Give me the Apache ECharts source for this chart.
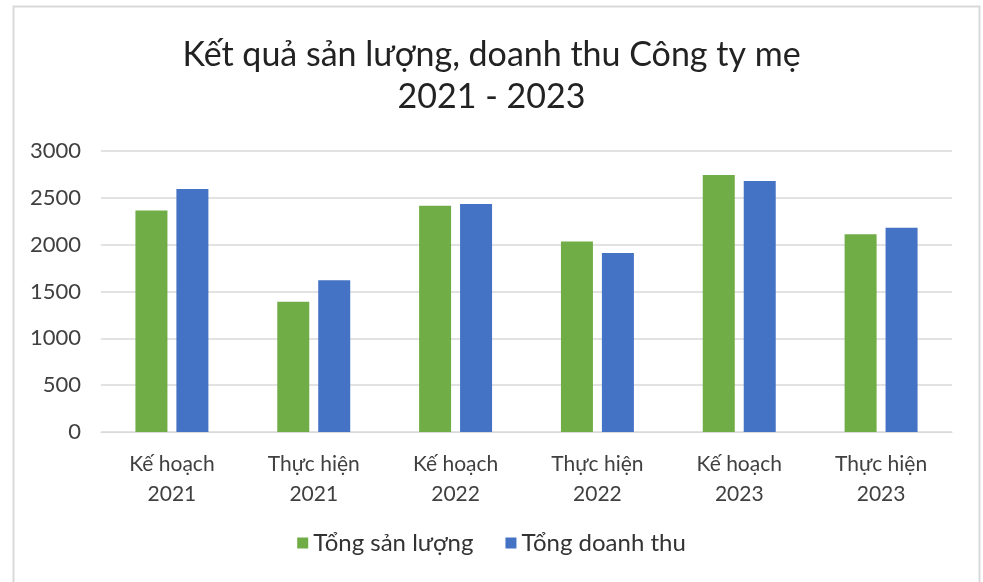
<!DOCTYPE html>
<html><head><meta charset="utf-8">
<script src="https://cdn.jsdelivr.net/npm/echarts@6/dist/echarts.min.js"></script>
<style>html,body{margin:0;padding:0;background:#fff}#c{width:983px;height:582px}</style>
</head><body><div id="c"></div>
<script>
const categories = ['Kế hoạch\n2021','Thực hiện\n2021','Kế hoạch\n2022','Thực hiện\n2022','Kế hoạch\n2023','Thực hiện\n2023'];
const tongSanLuong = [2365, 1390, 2415, 2035, 2745, 2110];
const tongDoanhThu = [2595, 1620, 2435, 1910, 2680, 2180];
const seriesNames = ['Tổng sản lượng','Tổng doanh thu'];
const titleText = 'Kết quả sản lượng, doanh thu Công ty mẹ\n2021 - 2023';
const FONT = 'Lato';
const chart = echarts.init(document.getElementById('c'), null, {renderer:'canvas'});
chart.setOption({
  animation:false,
  backgroundColor:'#fff',
  graphic:[{type:'rect', shape:{x:13.5,y:6.5,width:966,height:590}, style:{fill:'none', stroke:'#d9d9d9', lineWidth:2}}],
  title:{text:titleText, left:'center', top:29, textStyle:{fontFamily:FONT, fontSize:34, fontWeight:'normal', color:'#222', lineHeight:42}},
  legend:{bottom:22, left:'center', itemWidth:11, itemHeight:11, itemGap:32, icon:'rect',
    textStyle:{fontFamily:FONT, fontSize:24, color:'#333'}},
  grid:{left:101, right:31, top:151, bottom:150, containLabel:false},
  xAxis:{type:'category', data:categories,
    axisLine:{lineStyle:{color:'#d9d9d9'}}, axisTick:{show:false},
    axisLabel:{fontFamily:FONT, fontSize:21, color:'#404040', lineHeight:30, margin:17}},
  yAxis:{type:'value', min:0, max:3000, interval:500,
    axisLine:{show:false}, axisTick:{show:false},
    splitLine:{lineStyle:{color:'#d9d9d9', width:1.5}},
    axisLabel:{fontFamily:FONT, fontSize:22, color:'#404040', margin:20, formatter:v=>String(v)}},
  series:[
    {name:seriesNames[0], type:'bar', data:tongSanLuong, barWidth:32, barGap:'28%', itemStyle:{color:'#70AD47'}},
    {name:seriesNames[1], type:'bar', data:tongDoanhThu, barWidth:32, itemStyle:{color:'#4472C4'}}
  ]
});
</script></body></html>
